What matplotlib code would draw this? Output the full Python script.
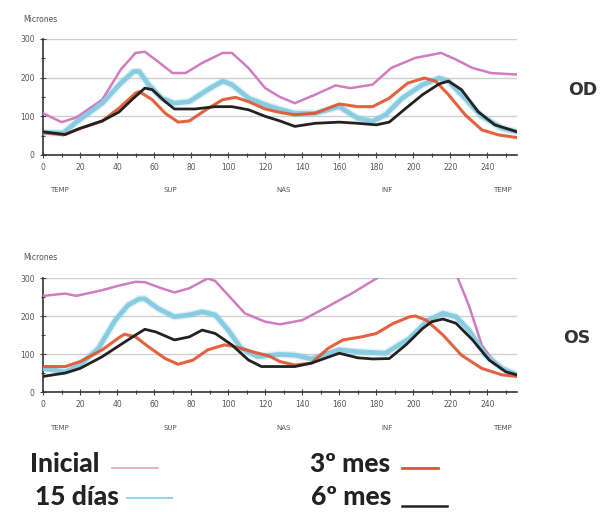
import matplotlib
matplotlib.use("Agg")
import matplotlib.pyplot as plt
import numpy as np

# ---------------- data (OD, top panel) ----------------
od_ini_x = [0, 10, 18, 32, 42, 50, 55, 62, 70, 77, 86, 97, 102, 111, 120, 128, 136, 147, 158, 166, 178, 188, 201, 215, 223, 232, 242, 256]
od_ini_y = [108, 85, 97, 143, 221, 264, 267, 242, 212, 212, 238, 264, 264, 225, 173, 150, 134, 156, 180, 173, 182, 225, 251, 264, 247, 225, 212, 208]

od_15_x = [0, 11, 18, 32, 42, 49, 52, 57, 64, 71, 79, 89, 97, 102, 111, 120, 128, 136, 147, 160, 170, 178, 185, 194, 205, 214, 219, 226, 237, 248, 256]
od_15_y = [58, 57, 85, 134, 186, 216, 216, 182, 147, 134, 138, 169, 191, 182, 147, 130, 118, 108, 108, 125, 95, 87, 104, 147, 182, 199, 191, 156, 100, 69, 60]

od_3_x = [0, 11, 18, 32, 41, 50, 52, 59, 66, 73, 79, 88, 97, 104, 111, 120, 128, 136, 147, 160, 170, 178, 187, 197, 206, 212, 219, 228, 237, 246, 256]
od_3_y = [58, 52, 65, 88, 121, 160, 164, 143, 108, 85, 88, 117, 143, 149, 138, 119, 110, 104, 108, 132, 125, 125, 147, 186, 199, 191, 156, 104, 65, 52, 45]

od_6_x = [0, 12, 20, 32, 41, 48, 55, 59, 66, 71, 82, 93, 102, 111, 120, 128, 136, 147, 160, 170, 180, 187, 196, 205, 214, 219, 226, 235, 244, 256]
od_6_y = [60, 53, 69, 88, 111, 143, 173, 169, 138, 119, 119, 125, 125, 117, 100, 88, 74, 82, 85, 82, 78, 85, 121, 156, 184, 191, 169, 112, 78, 60]

# ---------------- data (OS, bottom panel) ----------------
os_ini_x = [0, 12, 18, 32, 41, 50, 55, 64, 71, 79, 89, 93, 100, 109, 120, 128, 140, 152, 167, 180.5, 181, 223.6, 224, 230, 237, 242, 248, 256]
os_ini_y = [253, 259, 253, 268, 280, 290, 289, 273, 262, 273, 299, 292, 255, 207, 185, 178, 189, 220, 260, 300, np.nan, np.nan, 300, 228, 123, 90, 62, 45]

os_15_x = [0, 12, 20, 30, 39, 46, 52, 55, 62, 71, 79, 86, 93, 100, 107, 116, 128, 136, 145, 160, 170, 185, 198, 208, 216, 223, 230, 239, 248, 256]
os_15_y = [62, 53, 71, 115, 189, 229, 245, 245, 220, 198, 203, 211, 203, 163, 115, 93, 99, 97, 87, 111, 106, 102, 141, 189, 207, 198, 163, 97, 62, 45]

os_3_x = [0, 12, 20, 32, 41, 44, 50, 57, 66, 73, 81, 89, 98, 104, 113, 122, 128, 136, 145, 154, 162, 172, 180, 189, 198, 201, 207, 216, 226, 237, 248, 256]
os_3_y = [67, 67, 80, 111, 143, 152, 145, 119, 88, 73, 84, 111, 124, 119, 106, 95, 80, 71, 76, 115, 137, 145, 154, 180, 198, 200, 189, 150, 97, 62, 45, 41]

os_6_x = [0, 12, 20, 32, 43, 50, 55, 61, 71, 79, 86, 93, 102, 111, 118, 128, 136, 145, 160, 170, 178, 187, 196, 205, 210, 216, 223, 232, 241, 250, 256]
os_6_y = [41, 50, 62, 93, 128, 150, 165, 158, 137, 145, 163, 154, 124, 84, 67, 67, 67, 76, 102, 90, 87, 88, 124, 167, 185, 192, 181, 137, 84, 53, 45]

x_ticks = [0, 20, 40, 60, 80, 100, 120, 140, 160, 180, 200, 220, 240]
y_ticks = [0, 100, 200, 300]
regions = ["TEMP", "SUP", "NAS", "INF", "TEMP"]
region_pos = [9, 69, 130, 186, 248]

legend_labels = ["Inicial", "15 días", "3º mes", "6º mes"]

C_INI = "#cf7cc0"
C_15 = "#88cce2"
C_3 = "#e3512c"
C_6 = "#222222"
TXT = "#555555"

W, H = 600, 512
fig = plt.figure(figsize=(W / 100, H / 100), dpi=100)


def fx(px):
    return px / W


def fy(py):
    return 1 - py / H


def panel(rect, series, lbl_y, eye, eye_xy, mic_xy):
    ax = fig.add_axes(rect)
    ax.set_xlim(0, 256)
    ax.set_ylim(0, 300)
    ax.set_clip_on(False)
    for s in ["top", "right"]:
        ax.spines[s].set_visible(False)
    ax.spines["left"].set_color("#333333")
    ax.spines["bottom"].set_color("#333333")
    ax.spines["left"].set_linewidth(1.2)
    ax.spines["bottom"].set_linewidth(1.2)
    for g in [100, 200, 300]:
        ax.axhline(g, color="#cfcfcf", lw=1.0, zorder=0)
    ax.set_xticks(x_ticks)
    ax.set_yticks(y_ticks)
    ax.set_xticks(np.arange(10, 256, 20), minor=True)
    ax.set_yticks([50, 150, 250], minor=True)
    ax.tick_params(axis="both", which="both", direction="inout", length=4,
                   width=0.8, color="#444444", labelsize=5.5, labelcolor=TXT, pad=4)
    ax.tick_params(axis="both", which="minor", length=3)
    (ix, iy), (bx, by), (rx, ry), (kx, ky) = series
    ax.plot(ix, iy, color=C_INI, lw=1.8, zorder=3)
    ax.plot(bx, by, color=C_15, lw=5.5, alpha=0.25, zorder=2, solid_capstyle="round")
    ax.plot(bx, by, color=C_15, lw=3.4, zorder=3, solid_capstyle="round")
    ax.plot(rx, ry, color=C_3, lw=2.2, alpha=0.9, zorder=4)
    ax.plot(kx, ky, color=C_6, lw=2.0, zorder=5)
    for name, p in zip(regions, region_pos):
        ax.text(p, lbl_y, name, transform=ax.get_xaxis_transform(), ha="center",
                va="center", fontsize=5, color=TXT)
    fig.text(fx(eye_xy[0]), fy(eye_xy[1]), eye, ha="center", va="center",
             fontsize=12.5, color="#333333", fontweight="bold")
    fig.text(fx(mic_xy[0]), fy(mic_xy[1]), "Micrones", ha="left", va="center",
             fontsize=5.5, color=TXT)
    return ax


panel([fx(43), fy(155), fx(517) - fx(43), fy(39) - fy(155)],
      [(od_ini_x, od_ini_y), (od_15_x, od_15_y), (od_3_x, od_3_y), (od_6_x, od_6_y)],
      -0.30, "OD", (583, 90), (23, 20))

panel([fx(43), fy(392), fx(517) - fx(43), fy(278) - fy(392)],
      [(os_ini_x, os_ini_y), (os_15_x, os_15_y), (os_3_x, os_3_y), (os_6_x, os_6_y)],
      -0.32, "OS", (577, 338), (23, 258))

# legend
leg_text_pos = [(30, 464), (35, 497), (310, 464), (311, 497)]
leg_line_pos = [(112, 158, 468), (127, 172, 498), (402, 438, 468), (402, 447, 506)]
leg_colors = ["#e0a3b8", "#9ad4e6", C_3, C_6]
leg_lw = [1.2, 1.5, 2.0, 1.8]
for lab, (tx, ty), (x0, x1, ly), c, lw in zip(legend_labels, leg_text_pos, leg_line_pos,
                                              leg_colors, leg_lw):
    fig.text(fx(tx), fy(ty), lab, ha="left", va="center", fontsize=19,
             fontweight="black", color="#222222", family=["Lato", "DejaVu Sans"])
    fig.add_artist(plt.Line2D([fx(x0), fx(x1)], [fy(ly), fy(ly)], color=c, lw=lw,
                              transform=fig.transFigure))

fig.savefig("out.png", dpi=100, facecolor="white")
